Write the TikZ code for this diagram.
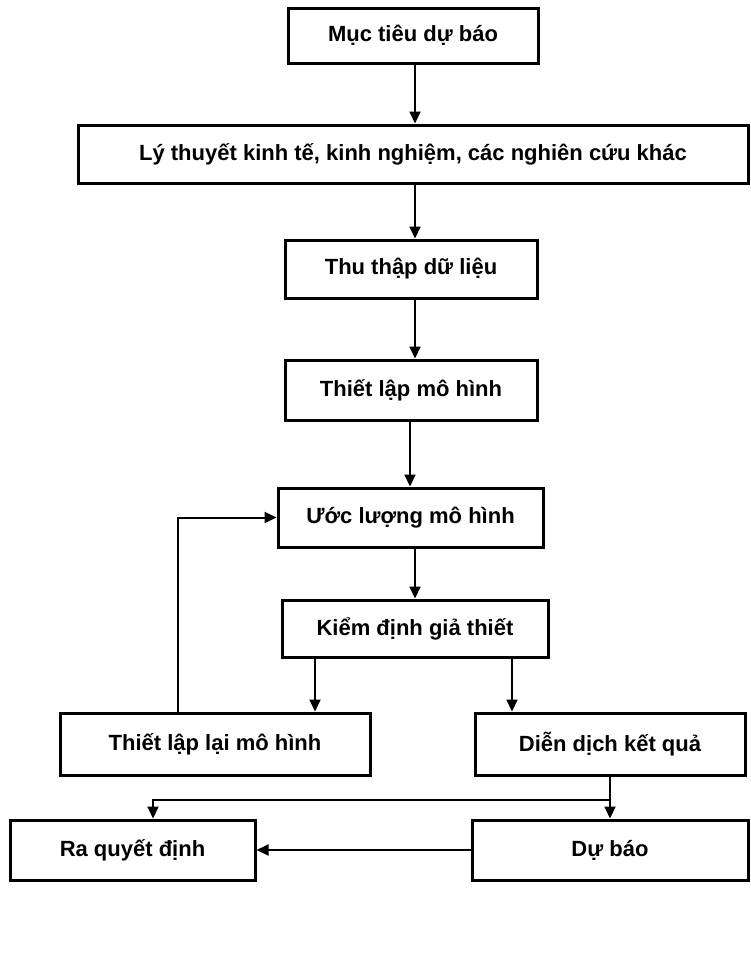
\documentclass[tikz,border=0pt]{standalone}
\usepackage{fontspec}
\setmainfont{Liberation Sans}
\usetikzlibrary{arrows.meta}
\tikzset{
  box/.style={draw, line width=3pt, rectangle, align=center, inner sep=0pt,
    font=\fontsize{22}{26}\selectfont\bfseries},
  arr/.style={line width=2pt, -{Triangle[length=12pt,width=11pt]}},
  ln/.style={line width=2pt}
}
\begin{document}
\begin{tikzpicture}[x=1pt,y=-1pt]
  \useasboundingbox (0,0) rectangle (751,959);
  % process boxes
  \node[box, minimum width=250pt, minimum height=55pt] (a) at (413,35.5) {Mục tiêu dự báo};
  \node[box, minimum width=670pt, minimum height=58pt] (b) at (413,154) {Lý thuyết kinh tế, kinh nghiệm, các nghiên cứu khác};
  \node[box, minimum width=252pt, minimum height=58pt] (c) at (411,269) {Thu thập dữ liệu};
  \node[box, minimum width=252pt, minimum height=60pt] (d) at (411,390) {Thiết lập mô hình};
  \node[box, minimum width=265pt, minimum height=59pt] (e) at (410.5,517.5) {Ước lượng mô hình};
  \node[box, minimum width=266pt, minimum height=57pt] (f) at (415,628.5) {Kiểm định giả thiết};
  \node[box, minimum width=310pt, minimum height=62pt] (g) at (215,744) {Thiết lập lại mô hình};
  \node[box, minimum width=270pt, minimum height=62pt] (h) at (610,744) {Diễn dịch kết quả};
  \node[box, minimum width=245pt, minimum height=60pt] (i) at (132.5,850) {Ra quyết định};
  \node[box, minimum width=276pt, minimum height=60pt] (j) at (610,850) {Dự báo};
  % guide coordinates for connectors
  \coordinate (x1) at (415,0);
  \coordinate (x2) at (410,0);
  \coordinate (xl) at (315,0);
  \coordinate (xr) at (512,0);
  \coordinate (xf) at (178,0);
  \coordinate (xd) at (153,0);
  \coordinate (split) at (610,800);
  % main chain
  \draw[arr] (a.south -| x1) -- (b.north -| x1);
  \draw[arr] (b.south -| x1) -- (c.north -| x1);
  \draw[arr] (c.south -| x1) -- (d.north -| x1);
  \draw[arr] (d.south -| x2) -- (e.north -| x2);
  \draw[arr] (e.south -| x1) -- (f.north -| x1);
  \draw[arr] (f.south -| xl) -- (g.north -| xl);
  \draw[arr] (f.south -| xr) -- (h.north -| xr);
  % feedback loop
  \draw[arr] (g.north -| xf) |- (e.west);
  % results
  \draw[ln] (h.south) -- (split);
  \draw[arr] (split) -| (i.north -| xd);
  \draw[arr] (split) -- (j.north);
  \draw[arr] (j.west) -- (i.east);
\end{tikzpicture}
\end{document}
